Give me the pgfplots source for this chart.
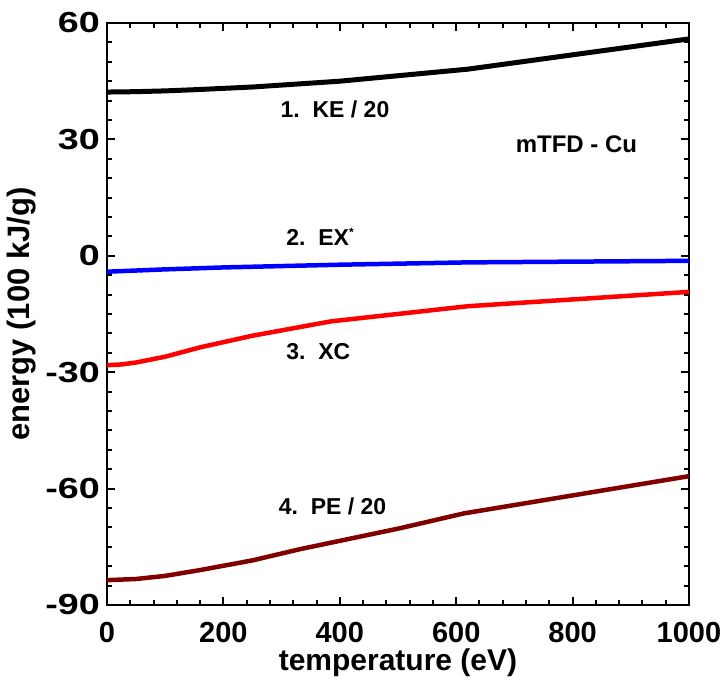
\documentclass[border=0pt]{standalone}
\usepackage{fontspec}
\setmainfont{Liberation Sans}
\usepackage{pgfplots}
\pgfplotsset{compat=1.18}
\definecolor{peline}{RGB}{128,0,0}

\begin{document}
\begin{tikzpicture}
\begin{axis}[
    name=ax,
    scale only axis,
    width=582bp, height=582bp,
    xmin=0, xmax=1000, ymin=-90, ymax=60,
    xtick={0,200,400,600,800,1000},
    xticklabels={0,200,400,600,800,1000},
    ytick={-90,-60,-30,0,30,60},
    yticklabels={-90,-60,-30,0,30,60},
    minor x tick num=4, minor y tick num=5,
    tick align=inside, xtick pos=both, ytick pos=both,
    major tick length=8bp, minor tick length=5bp,
    every tick/.style={black, line width=2bp},
    axis line style={line width=2.5bp},
    ticklabel style={font=\fontsize{29bp}{30bp}\selectfont\bfseries},
    xticklabel style={yshift=-14bp},
    yticklabel style={xscale=1.3, transform shape, xshift=-2bp},
    xlabel={temperature (eV)},
    ylabel={energy (100 kJ/g)},
    every axis x label/.style={at={(axis description cs:0.5,-0.1)}, anchor=center,
        font=\fontsize{30bp}{34bp}\selectfont\bfseries},
    every axis y label/.style={at={(axis description cs:-0.146,0.5)}, rotate=90, anchor=center,
        font=\fontsize{31bp}{34bp}\selectfont\bfseries},
]
% 1. KE / 20
\addplot[black, line width=5bp] coordinates {
    (0,42.2) (50,42.3) (100,42.5) (150,42.8) (250,43.5) (400,45.0) (620,48.1) (1000,55.9)
};
% 2. EX*
\addplot[blue, line width=4.5bp] coordinates {
    (0,-4.1) (100,-3.5) (200,-3.0) (400,-2.3) (620,-1.7) (1000,-1.3)
};
% 3. XC
\addplot[red, line width=4.5bp] coordinates {
    (0,-28.2) (25,-28.0) (50,-27.5) (100,-26.0) (160,-23.6) (250,-20.6) (385,-16.9) (620,-13.0) (1000,-9.3)
};
% 4. PE / 20
\addplot[peline, line width=4.5bp] coordinates {
    (0,-83.6) (50,-83.3) (100,-82.5) (160,-81.0) (250,-78.5) (332,-75.6) (504,-70.2) (613,-66.4) (1000,-56.8)
};

\begin{scope}[every node/.style={font=\fontsize{23bp}{25bp}\selectfont\bfseries, anchor=base west, inner sep=0pt}]
\node at (axis cs:298,35.6) {1.\ \ KE / 20};
\node at (axis cs:308,2.6) {2.\ \ EX\textsuperscript{\fontsize{12bp}{12bp}\selectfont *}};
\node at (axis cs:308,-26.8) {3.\ \ XC};
\node at (axis cs:295,-66.6) {4.\ \ PE / 20};
\node[font=\fontsize{24bp}{26bp}\selectfont\bfseries] at (axis cs:702,26.5) {mTFD - Cu};
\end{scope}
\end{axis}
\pgfresetboundingbox
\path[use as bounding box] ([xshift=-107bp, yshift=-79bp]ax.south west) rectangle ([xshift=38bp, yshift=23bp]ax.north east);
\end{tikzpicture}
\end{document}
